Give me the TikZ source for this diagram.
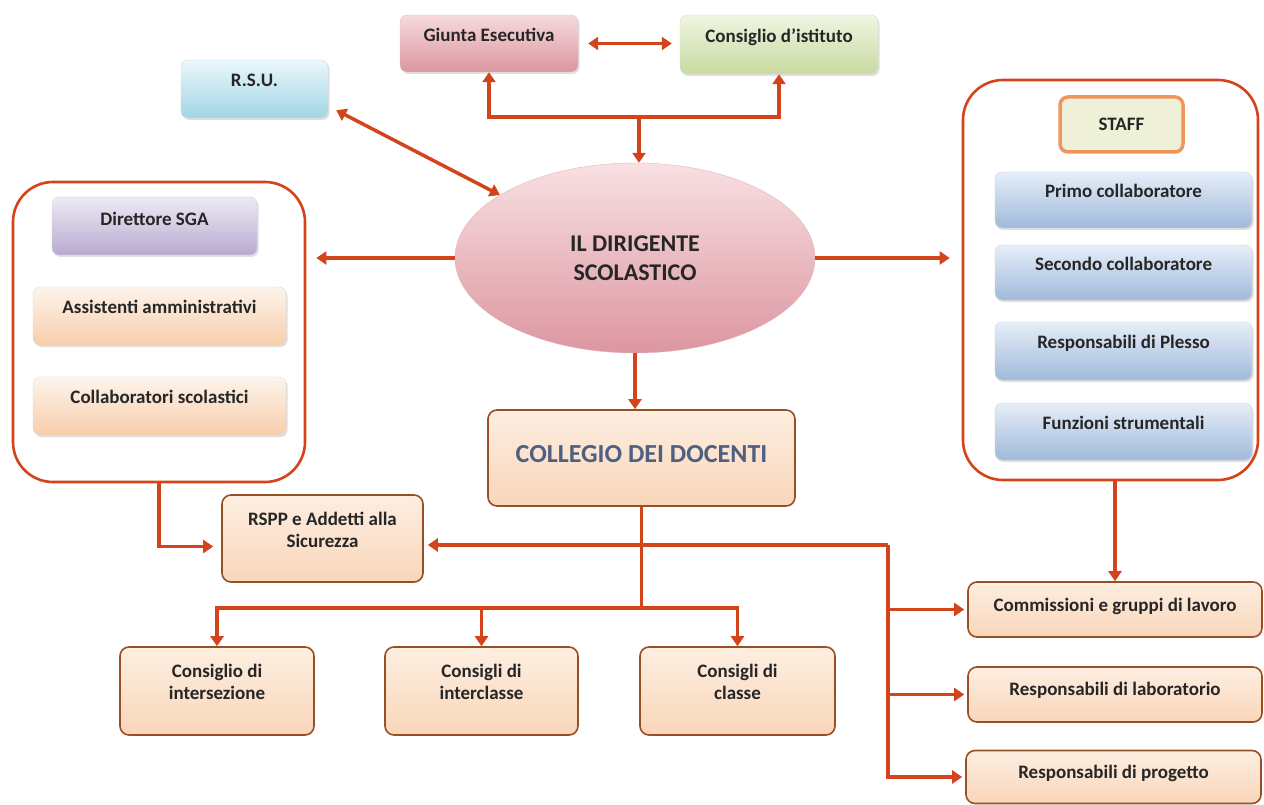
\documentclass[tikz,border=0pt]{standalone}
\usepackage{fontspec}
\setmainfont{Carlito}
\usepackage{tikz}
\usetikzlibrary{arrows.meta}
\usetikzlibrary{shapes.geometric}
\usetikzlibrary{shadows}
\usetikzlibrary{positioning}

\definecolor{arrowred}{RGB}{212,68,28}
\definecolor{peachtop}{RGB}{253,238,224}
\definecolor{peachbot}{RGB}{249,214,186}
\definecolor{peachline}{RGB}{150,80,35}
\definecolor{softtop}{RGB}{253,244,236}
\definecolor{softbot}{RGB}{247,206,170}
\definecolor{redtop}{RGB}{247,218,222}
\definecolor{redbot}{RGB}{218,150,158}
\definecolor{greentop}{RGB}{240,245,226}
\definecolor{greenbot}{RGB}{200,218,160}
\definecolor{cyantop}{RGB}{234,247,251}
\definecolor{cyanbot}{RGB}{160,214,228}
\definecolor{lilactop}{RGB}{238,234,245}
\definecolor{lilacbot}{RGB}{184,170,208}
\definecolor{bluetop}{RGB}{230,238,248}
\definecolor{bluebot}{RGB}{160,186,218}
\definecolor{elltop}{RGB}{248,224,227}
\definecolor{ellbot}{RGB}{220,150,160}
\definecolor{stafffill}{RGB}{238,241,216}
\definecolor{staffline}{RGB}{240,150,90}
\definecolor{collegetext}{RGB}{78,96,130}

\begin{document}
\begin{tikzpicture}[x=1pt,y=-1pt,
    every node/.style={font=\fontsize{19}{22}\selectfont\bfseries, text=black!85, align=center, inner sep=0pt},
    up/.style={text depth=#1},
    glossy/.style={rounded corners=7pt, shade, top color=#1top, bottom color=#1bot,
      draw=#1bot!80!black!40, line width=0.4pt, up=18pt,
      drop shadow={shadow xshift=1.5pt, shadow yshift=-2pt, opacity=0.25}},
    peach/.style={rounded corners=9pt, shade, top color=peachtop, bottom color=peachbot,
      draw=peachline, line width=1.6pt},
    group/.style={draw=arrowred, line width=2.6pt, rounded corners=40pt, fill=white},
    line/.style={draw=arrowred, line width=3.5pt},
    arr/.style={line, -{Triangle[width=13pt,length=10pt]}},
    darr/.style={line, {Triangle[width=13pt,length=10pt]}-{Triangle[width=13pt,length=10pt]}},
  ]
  \useasboundingbox (0,0) rectangle (1264,805);

  \node[group, minimum width=292pt, minimum height=300pt] (leftgrp) at (159,332) {};
  \node[group, minimum width=295pt, minimum height=400pt] (rightgrp) at (1110.5,280) {};

  \node[glossy=red, minimum width=178pt, minimum height=57pt] (giunta) at (489,43.5) {Giunta Esecutiva};
  \node[glossy=green, minimum width=198pt, minimum height=59pt] (cdi) at (779,44.5) {Consiglio d’istituto};
  \node[glossy=cyan, minimum width=147pt, minimum height=58pt] (rsu) at (254.5,89) {R.S.U.};
  \node[ellipse, shade, top color=elltop, bottom color=ellbot, draw=ellbot!70,
    minimum width=360pt, minimum height=190pt, font=\fontsize{24}{29}\selectfont\bfseries] (dir) at (635,258) {IL DIRIGENTE\\SCOLASTICO};

  \node[glossy=lilac, minimum width=205pt, minimum height=58pt, up=14pt] (sga) at (154.5,226) {Direttore SGA};
  \node[glossy=soft, minimum width=253pt, minimum height=58pt] (assist) at (159.5,316) {Assistenti amministrativi};
  \node[glossy=soft, minimum width=253pt, minimum height=58pt] (collab) at (159.5,406) {Collaboratori scolastici};

  \node[rounded corners=8pt, fill=stafffill, draw=staffline, line width=3.5pt,
    minimum width=123pt, minimum height=55pt] (staff) at (1121.5,124.5) {STAFF};
  \node[glossy=blue, minimum width=257pt, minimum height=56pt] (primo) at (1123.5,200) {Primo collaboratore};
  \node[glossy=blue, minimum width=257pt, minimum height=55pt] (secondo) at (1123.5,272.5) {Secondo collaboratore};
  \node[glossy=blue, minimum width=257pt, minimum height=58pt] (plesso) at (1123.5,351) {Responsabili di Plesso};
  \node[glossy=blue, minimum width=257pt, minimum height=57pt] (funz) at (1123.5,431.5) {Funzioni strumentali};

  \node[peach, minimum width=307pt, minimum height=96pt, text=collegetext, up=8pt,
    font=\fontsize{26}{30}\selectfont\bfseries] (coll) at (641.5,458) {COLLEGIO DEI DOCENTI};
  \node[peach, minimum width=201pt, minimum height=87pt, up=18pt] (rspp) at (322.5,538.5) {RSPP e Addetti alla\\Sicurezza};
  \node[peach, minimum width=194pt, minimum height=88pt, up=18pt] (inters) at (217,691) {Consiglio di\\intersezione};
  \node[peach, minimum width=193pt, minimum height=88pt, up=18pt] (intercl) at (481.5,691) {Consigli di\\interclasse};
  \node[peach, minimum width=195pt, minimum height=88pt, up=18pt] (classe) at (737.5,691) {Consigli di\\classe};
  \node[peach, minimum width=294pt, minimum height=55pt, up=10pt] (comm) at (1115,609.5) {Commissioni e gruppi di lavoro};
  \node[peach, minimum width=294pt, minimum height=55pt, up=11pt] (lab) at (1115,694.5) {Responsabili di laboratorio};
  \node[peach, minimum width=295pt, minimum height=53pt, up=10pt] (prog) at (1113.5,777) {Responsabili di progetto};

  \coordinate (ttop) at (639,117);
  \coordinate (cbus) at (641.5,608);
  \coordinate (rbus) at (888,545);

  \draw[darr, shorten <=10pt, shorten >=8pt] (giunta.east) -- (giunta.east -| cdi.west);
  \draw[arr] (ttop) -| (giunta.south);
  \draw[arr] (ttop) -| (cdi.south);
  \draw[arr] (ttop) -- (ttop |- dir.north);
  \draw[darr] ([xshift=8pt,yshift=8pt]rsu.south east) -- (dir.155);
  \draw[arr] (dir.west) -- ([xshift=10pt]leftgrp.east |- dir.west);
  \draw[arr] (dir.east) -- ([xshift=-12pt]rightgrp.west |- dir.east);
  \draw[arr] (dir.south) -- (dir.south |- coll.north);
  \draw[arr, shorten >=8pt] (leftgrp.south) |- ([yshift=-8pt]rspp.west);
  \draw[line] (coll.south) -- (cbus);
  \draw[arr] (cbus) -| (inters.north);
  \draw[arr] (cbus) -| (intercl.north);
  \draw[arr] (cbus) -| (classe.north);
  \draw[arr, shorten >=4pt] (rbus) -- (rbus -| rspp.east);
  \draw[arr, shorten >=3pt] (rbus) |- (comm.west);
  \draw[arr, shorten >=3pt] (rbus) |- (lab.west);
  \draw[arr, shorten >=3pt] (rbus) |- (prog.west);
  \draw[arr] (rightgrp.south -| comm.north) -- (comm.north);
\end{tikzpicture}
\end{document}
